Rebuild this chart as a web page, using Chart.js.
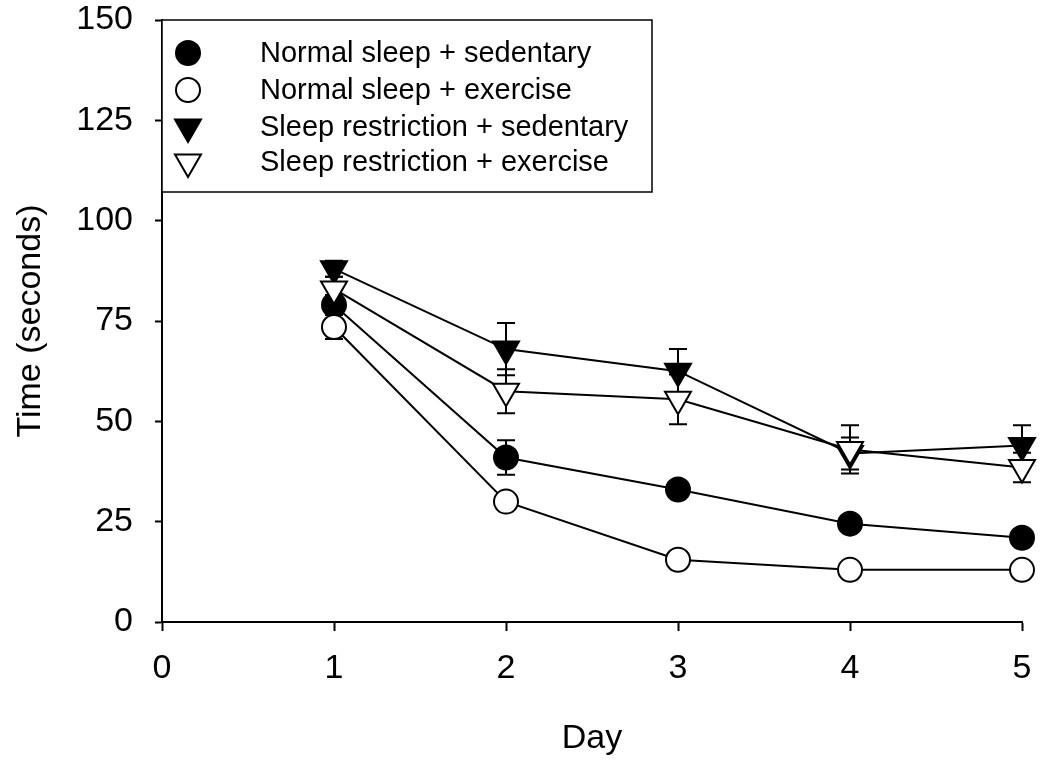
<!DOCTYPE html>
<html>
<head>
<meta charset="utf-8">
<script src="https://cdn.jsdelivr.net/npm/chart.js@4/dist/chart.umd.min.js"></script>
<style>
  body { margin: 0; background: #fff; }
  canvas { display: block; }
</style>
</head>
<body>
<canvas id="sleepChart" width="1050" height="763"></canvas>
<script>
// dados (média e erro padrão por dia)
const days = [1, 2, 3, 4, 5];
const xTicks = [0, 1, 2, 3, 4, 5];
const yTicks = [0, 25, 50, 75, 100, 125, 150];

const seriesNames = [
  'Normal sleep + sedentary',
  'Normal sleep + exercise',
  'Sleep restriction + sedentary',
  'Sleep restriction + exercise'
];

const normalSedentary = [79, 41, 33, 24.5, 21];
const normalSedentaryErr = [2.5, 4.3, 1.5, 1.5, 1.2];
const normalExercise = [73.5, 30, 15.5, 13, 13];
const normalExerciseErr = [3, 1.5, 1, 1, 1];
const restrictSedentary = [88, 68, 62.5, 42, 44];
const restrictSedentaryErr = [2, 6.5, 5.5, 4, 5];
const restrictExercise = [83, 57.5, 55.5, 43, 38.5];
const restrictExerciseErr = [3, 5.5, 6.2, 6, 3.7];

const FONT = 'Arial, "Liberation Sans", sans-serif';

function toPoints(values) {
  return days.map((d, i) => ({ x: d, y: values[i] }));
}

function makeSet(label, values, errs, filled, style, order) {
  return {
    label: label,
    data: toPoints(values),
    errors: errs,
    borderColor: '#000',
    borderWidth: 2,
    backgroundColor: filled ? '#000' : '#fff',
    pointBackgroundColor: filled ? '#000' : '#fff',
    pointBorderColor: '#000',
    pointBorderWidth: 2,
    pointStyle: style,
    pointRadius: style === 'circle' ? 12 : 15,
    pointRotation: style === 'triangle' ? 180 : 0,
    pointHoverRadius: style === 'circle' ? 12 : 15,
    tension: 0,
    fill: false,
    clip: false,
    order: order
  };
}

// barras de erro desenhadas por baixo dos marcadores
const errorBars = {
  id: 'errorBars',
  beforeDatasetsDraw(chart) {
    const ctx = chart.ctx;
    const yScale = chart.scales.y;
    ctx.save();
    ctx.strokeStyle = '#000';
    ctx.lineWidth = 2;
    chart.data.datasets.forEach((ds, di) => {
      const meta = chart.getDatasetMeta(di);
      meta.data.forEach((pt, i) => {
        const v = ds.data[i].y;
        const e = ds.errors[i];
        const top = yScale.getPixelForValue(v + e);
        const bot = yScale.getPixelForValue(v - e);
        ctx.beginPath();
        ctx.moveTo(pt.x, top);
        ctx.lineTo(pt.x, bot);
        ctx.moveTo(pt.x - 9, top);
        ctx.lineTo(pt.x + 9, top);
        ctx.moveTo(pt.x - 9, bot);
        ctx.lineTo(pt.x + 9, bot);
        ctx.stroke();
      });
    });
    ctx.restore();
  }
};

// legenda dentro da área do gráfico, com moldura
const boxLegend = {
  id: 'boxLegend',
  afterDraw(chart) {
    const ctx = chart.ctx;
    const area = chart.chartArea;
    const left = area.left, top = area.top;
    const right = 652, bottom = 192;
    ctx.save();
    ctx.fillStyle = '#fff';
    ctx.fillRect(left, top, right - left, bottom - top);
    ctx.strokeStyle = '#000';
    ctx.lineWidth = 1.5;
    ctx.strokeRect(left, top, right - left, bottom - top);
    ctx.font = '29px ' + FONT;
    ctx.textBaseline = 'middle';
    ctx.fillStyle = '#000';
    const rowY = [53, 90, 127, 162];
    seriesNames.forEach((name, i) => {
      const ds = chart.data.datasets[i];
      ctx.save();
      ctx.fillStyle = ds.pointBackgroundColor;
      ctx.strokeStyle = '#000';
      ctx.lineWidth = 2;
      Chart.helpers.drawPoint(ctx, {
        pointStyle: ds.pointStyle,
        radius: ds.pointRadius,
        rotation: ds.pointRotation,
        borderWidth: 2
      }, 188, rowY[i]);
      ctx.restore();
      ctx.fillStyle = '#000';
      ctx.fillText(name, 260, rowY[i] + 1);
    });
    ctx.restore();
  }
};

const whiteBg = {
  id: 'whiteBg',
  beforeDraw(chart) {
    const ctx = chart.ctx;
    ctx.save();
    ctx.fillStyle = '#fff';
    ctx.fillRect(0, 0, chart.width, chart.height);
    ctx.restore();
  }
};

const ctx = document.getElementById('sleepChart').getContext('2d');
new Chart(ctx, {
  type: 'line',
  data: {
    datasets: [
      makeSet(seriesNames[0], normalSedentary, normalSedentaryErr, true, 'circle', 3),
      makeSet(seriesNames[1], normalExercise, normalExerciseErr, false, 'circle', 2),
      makeSet(seriesNames[2], restrictSedentary, restrictSedentaryErr, true, 'triangle', 4),
      makeSet(seriesNames[3], restrictExercise, restrictExerciseErr, false, 'triangle', 1)
    ]
  },
  options: {
    responsive: false,
    animation: false,
    layout: { autoPadding: false, padding: { top: 20, right: 28, left: 0, bottom: 0 } },
    plugins: {
      legend: { display: false },
      tooltip: { enabled: false }
    },
    scales: {
      x: {
        type: 'linear',
        min: 0,
        max: 5,
        afterFit(scale) {
          scale.height = 141;
          scale.paddingLeft = 0;
          scale.paddingRight = 0;
        },
        afterBuildTicks(scale) { scale.ticks = xTicks.map(v => ({ value: v })); },
        border: { display: true, color: '#000', width: 2 },
        grid: { drawOnChartArea: false, drawTicks: true, tickLength: 9, tickColor: '#000', tickWidth: 2 },
        ticks: { color: '#000', font: { family: FONT, size: 34 }, padding: 17, maxRotation: 0 },
        title: { display: true, text: 'Day', color: '#000', font: { family: FONT, size: 34 }, padding: { top: 0, bottom: 4 } }
      },
      y: {
        min: 0,
        max: 150,
        afterFit(scale) {
          scale.width = 162;
          scale.paddingTop = 0;
          scale.paddingBottom = 0;
        },
        afterBuildTicks(scale) { scale.ticks = yTicks.map(v => ({ value: v })); },
        border: { display: true, color: '#000', width: 2 },
        grid: { drawOnChartArea: false, drawTicks: true, tickLength: 7, tickColor: '#000', tickWidth: 2 },
        ticks: { color: '#000', font: { family: FONT, size: 34 }, padding: 22 },
        title: { display: true, text: 'Time (seconds)', color: '#000', font: { family: FONT, size: 34 }, padding: { top: 10, bottom: 0 } }
      }
    }
  },
  plugins: [whiteBg, errorBars, boxLegend]
});
</script>
</body>
</html>
